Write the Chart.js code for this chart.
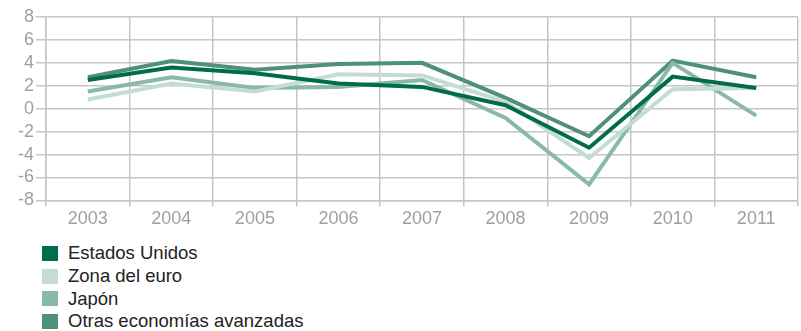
<!DOCTYPE html>
<html>
<head>
<meta charset="utf-8">
<script src="https://cdn.jsdelivr.net/npm/chart.js@4/dist/chart.umd.min.js"></script>
<style>
  body { margin: 0; background: #fff; font-family: "Liberation Sans", Arial, sans-serif; }
  #wrap { position: relative; width: 801px; height: 232px; }
  #legend { margin: 10px 0 0 42px; padding: 0; list-style: none; }
  #legend li { height: 22.7px; display: flex; align-items: center; font-size: 18.5px; color: #222; }
  #legend span { display: inline-block; width: 16px; height: 15px; margin-right: 10px; }
</style>
</head>
<body>
<div id="wrap"><canvas id="myChart"></canvas></div>
<ul id="legend"></ul>
<script>
var years = ['2003', '2004', '2005', '2006', '2007', '2008', '2009', '2010', '2011'];
var estadosUnidos = [2.5, 3.6, 3.1, 2.2, 1.9, 0.3, -3.4, 2.8, 1.8];
var zonaEuro = [0.8, 2.2, 1.5, 3.0, 2.9, 0.6, -4.3, 1.7, 1.8];
var japon = [1.5, 2.75, 1.8, 1.9, 2.5, -0.8, -6.6, 4.0, -0.6];
var otras = [2.75, 4.15, 3.4, 3.9, 4.0, 0.95, -2.4, 4.2, 2.75];
var yTicks = [-8, -6, -4, -2, 0, 2, 4, 6, 8];

var names = ['Estados Unidos', 'Zona del euro', 'Japón', 'Otras economías avanzadas'];
var colors = ['#006b4f', '#c3ddd5', '#8ab9a8', '#4e907a'];
var series = [estadosUnidos, zonaEuro, japon, otras];

var datasets = [];
for (var i = 0; i < series.length; i++) {
    datasets.push({
        label: names[i],
        data: series[i],
        borderColor: colors[i],
        backgroundColor: colors[i],
        borderWidth: 4,
        pointRadius: 0,
        tension: 0,
        fill: false
    });
}

var gridColor = '#c6c6c6';
var tickFont = { family: '"Liberation Sans", Arial, sans-serif', size: 18 };

var ctx = document.getElementById('myChart').getContext('2d');
var chart = new Chart(ctx, {
    type: 'line',
    data: { labels: years, datasets: datasets },
    options: {
        responsive: true,
        maintainAspectRatio: false,
        animation: false,
        layout: { padding: { left: 16, right: 3, top: 17, bottom: 0 } },
        plugins: { legend: { display: false }, tooltip: { enabled: false } },
        scales: {
            x: {
                offset: true,
                grid: { color: gridColor, lineWidth: 1.5, tickLength: 6, offset: true },
                border: { color: gridColor, width: 1.5 },
                ticks: { color: '#a0a0a0', font: tickFont, padding: 2, maxRotation: 0, autoSkip: false }
            },
            y: {
                min: yTicks[0],
                max: yTicks[yTicks.length - 1],
                afterBuildTicks: function (axis) {
                    axis.ticks = yTicks.map(function (v) { return { value: v }; });
                },
                grid: { color: gridColor, lineWidth: 1.5, tickLength: 10 },
                border: { color: gridColor, width: 1.5 },
                ticks: { color: '#a0a0a0', font: tickFont, padding: 2, autoSkip: false }
            }
        }
    }
});

// legend, one item per line
var content = '';
for (var j = 0; j < names.length; j++) {
    content += '<li><span style="background:' + colors[j] + '"></span>' + names[j] + '</li>';
}
document.getElementById('legend').innerHTML = content;
</script>
</body>
</html>
